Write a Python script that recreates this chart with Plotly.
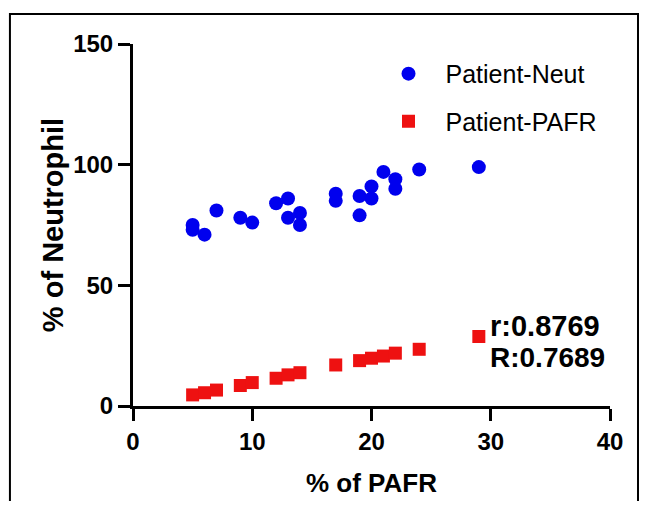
import plotly.graph_objects as go

neut_x = [5, 5, 6, 7, 9, 10, 12, 13, 13, 14, 14, 17, 17, 19, 19, 20, 20, 21, 22, 22, 24, 29]
neut_y = [75, 73, 71, 81, 78, 76, 84, 86, 78, 80, 75, 88, 85, 87, 79, 91, 86, 97, 94, 90, 98, 99]

pafr_x = [5, 6, 7, 9, 10, 12, 13, 14, 17, 19, 20, 21, 22, 24, 29]
pafr_y = [4.6, 5.5, 6.6, 8.5, 9.7, 11.5, 12.9, 13.8, 17, 18.8, 19.8, 20.7, 21.9, 23.5, 28.8]

x_ticks = [0, 10, 20, 30, 40]
y_ticks = [0, 50, 100, 150]

FONT = "Liberation Sans, Arial, sans-serif"

fig = go.Figure()
fig.add_trace(go.Scatter(x=neut_x, y=neut_y, mode="markers", name="Patient-Neut", legendgroup="a",
                         marker=dict(symbol="circle", size=14, color="#0000ee"), cliponaxis=False))
fig.add_trace(go.Scatter(x=pafr_x, y=pafr_y, mode="markers", name="Patient-PAFR", legendgroup="b",
                         marker=dict(symbol="square", size=13, color="#ee1111"), cliponaxis=False))

fig.update_layout(
    width=631, height=493,
    margin=dict(l=125, r=29, t=36, b=95),
    paper_bgcolor="white", plot_bgcolor="white",
    font=dict(family=FONT, color="black"),
    showlegend=True,
    legend=dict(x=0.50, y=0.981, xanchor="left", yanchor="top",
                font=dict(size=25, family=FONT), itemsizing="trace", itemwidth=64,
                tracegroupgap=12, bgcolor="rgba(0,0,0,0)"),
    xaxis=dict(range=[0, 40], tickvals=x_ticks, showgrid=False, zeroline=False,
               showline=True, linecolor="black", linewidth=3, automargin=False,
               ticks="outside", ticklen=12, tickwidth=3, tickcolor="black",
               tickfont=dict(size=24, family=FONT, weight="bold"),
               title=dict(text="<b>% of PAFR</b>", font=dict(size=26, family=FONT), standoff=21)),
    yaxis=dict(range=[0, 150], tickvals=y_ticks, showgrid=False, zeroline=False,
               showline=True, linecolor="black", linewidth=3, automargin=False,
               ticks="outside", ticklen=12, tickwidth=3, tickcolor="black",
               tickfont=dict(size=24, family=FONT, weight="bold"),
               title=dict(text="<b>% of Neutrophil</b>", font=dict(size=29, family=FONT), standoff=2)),
)

fig.add_annotation(x=29.75, y=33.2, xref="x", yref="y", text="<b>r:0.8769</b>", showarrow=False,
                   xanchor="left", yanchor="middle", font=dict(size=29, family=FONT))
fig.add_annotation(x=29.75, y=19.9, xref="x", yref="y", text="<b>R:0.7689</b>", showarrow=False,
                   xanchor="left", yanchor="middle", font=dict(size=28, family=FONT))

fig.add_shape(type="rect", xref="paper", yref="paper", x0=-0.258, x1=1.0587, y0=-0.4, y1=1.083,
              line=dict(color="black", width=2), fillcolor="rgba(0,0,0,0)", layer="below")

fig.write_html("out.html")
